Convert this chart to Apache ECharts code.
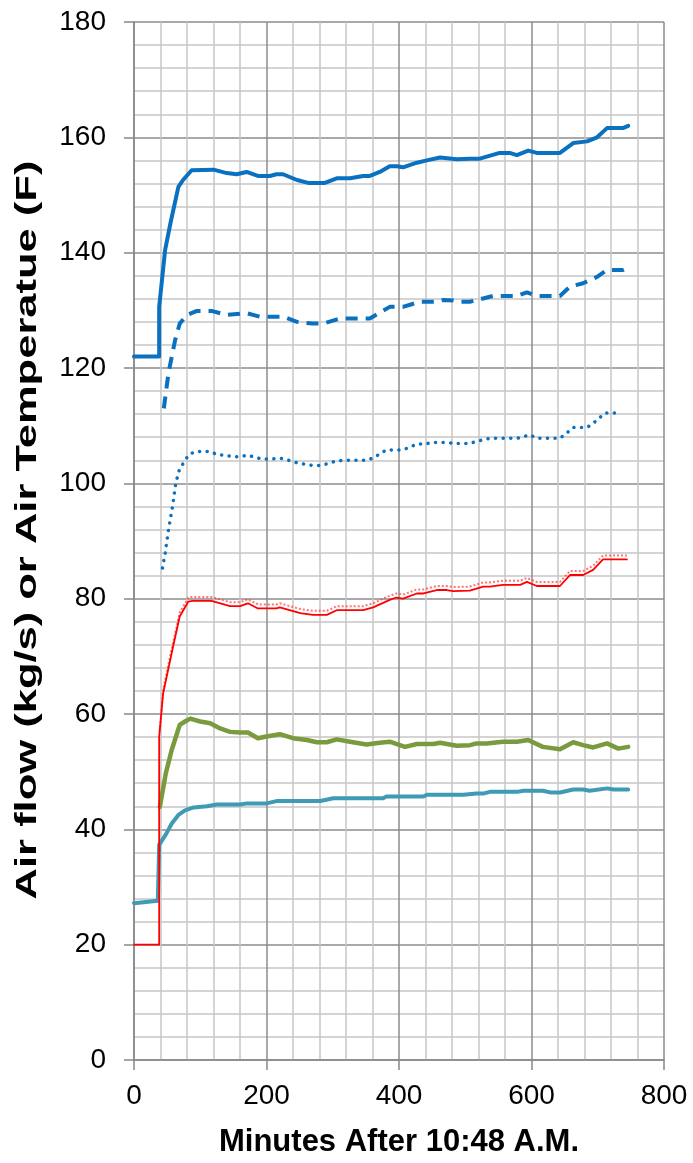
<!DOCTYPE html>
<html>
<head>
<meta charset="utf-8">
<script src="https://cdn.jsdelivr.net/npm/echarts@6/dist/echarts.min.js"></script>
<style>
html,body{margin:0;padding:0;background:#fff;}
#c{width:693px;height:1163px;}
</style>
</head>
<body>
<div id="c"></div>
<script>
// Data: [minutes, value]
const xTicks = [0, 200, 400, 600, 800];
const yTicks = [0, 20, 40, 60, 80, 100, 120, 140, 160, 180];
const xTitle = 'Minutes After 10:48 A.M.';
const yTitle = 'Air flow (kg/s) or Air Temperatue (F)';

const blueSolid = [[0,122],[38,122],[38,130.6],[47,140.5],[55,145.1],[67,151.4],[74,152.6],[87,154.3],[120,154.4],[140,153.8],[155,153.6],[170,154.0],[187,153.3],[205,153.3],[215,153.6],[225,153.6],[246,152.6],[263,152.1],[288,152.1],[306,152.9],[326,152.9],[346,153.3],[356,153.3],[371,154.0],[386,155.0],[397,155.0],[406,154.8],[427,155.6],[442,156.0],[462,156.5],[487,156.2],[507,156.3],[522,156.3],[552,157.3],[567,157.3],[578,156.9],[595,157.7],[608,157.3],[643,157.3],[663,159.0],[684,159.3],[699,160.0],[714,161.6],[738,161.6],[746,162.0]];

const blueDashed = [[45,113.0],[52,119.1],[62,124.8],[69,127.7],[80,129.2],[95,129.9],[117,129.9],[140,129.2],[170,129.5],[190,128.9],[225,128.9],[246,128.0],[270,127.7],[286,127.7],[311,128.6],[356,128.6],[386,130.6],[406,130.6],[432,131.5],[457,131.5],[467,131.8],[482,131.7],[492,131.5],[507,131.5],[522,131.9],[542,132.5],[578,132.5],[593,133.1],[608,132.5],[643,132.5],[658,134.1],[678,134.7],[699,135.8],[714,137.0],[738,137.0],[746,137.4]];

const blueDotted = [[43,85.3],[47,87.9],[52,91.9],[58,95.9],[63,100.0],[69,102.6],[76,103.7],[82,104.9],[92,105.5],[115,105.5],[127,104.9],[137,104.9],[150,104.6],[160,104.6],[171,104.9],[193,104.2],[205,104.2],[215,104.3],[225,104.3],[248,103.5],[270,103.1],[283,103.1],[303,103.8],[316,104.0],[351,104.0],[361,104.4],[381,105.8],[394,105.8],[406,105.8],[427,106.8],[439,106.8],[450,107.1],[472,107.1],[484,106.9],[507,106.9],[517,107.3],[537,107.8],[578,107.8],[598,108.4],[608,107.8],[643,107.8],[653,108.7],[663,109.7],[684,109.7],[694,110.5],[704,111.5],[711,112.2],[736,112.2]];

const redSolid = [[0,20],[38,20],[38,56.1],[44,63.6],[59,71.7],[69,76.9],[82,79.5],[89,79.6],[117,79.6],[145,78.7],[160,78.7],[172,79.2],[187,78.3],[215,78.3],[220,78.5],[251,77.5],[270,77.2],[291,77.2],[306,78.0],[346,78.0],[361,78.5],[386,79.8],[396,80.2],[406,80.0],[427,80.9],[437,80.9],[457,81.5],[472,81.5],[482,81.3],[507,81.4],[527,82.1],[537,82.1],[557,82.4],[583,82.4],[593,82.9],[608,82.2],[643,82.2],[658,84.1],[678,84.1],[693,85.0],[708,86.8],[744,86.8]];

const redDotted = [[39,57.0],[44,64.3],[59,72.4],[69,77.6],[82,80.2],[89,80.3],[117,80.3],[145,79.4],[160,79.4],[172,79.9],[187,79.0],[215,79.0],[220,79.2],[251,78.2],[270,77.9],[291,77.9],[306,78.7],[346,78.7],[361,79.2],[386,80.5],[396,80.9],[406,80.7],[427,81.6],[437,81.6],[457,82.2],[472,82.2],[482,82.0],[507,82.1],[527,82.8],[537,82.8],[557,83.1],[583,83.1],[593,83.6],[608,82.9],[643,82.9],[658,84.8],[678,84.8],[693,85.7],[708,87.5],[744,87.5]];

const green = [[39,43.9],[48,49.7],[57,53.8],[69,58.1],[77,58.7],[85,59.2],[100,58.7],[115,58.4],[130,57.5],[145,56.9],[160,56.8],[172,56.8],[187,55.8],[200,56.1],[220,56.5],[240,55.8],[261,55.5],[276,55.1],[291,55.1],[306,55.6],[326,55.2],[351,54.7],[371,55.0],[386,55.2],[409,54.3],[427,54.8],[452,54.8],[462,55.0],[487,54.5],[507,54.6],[517,54.9],[532,54.9],[557,55.2],[578,55.2],[595,55.5],[617,54.3],[643,53.9],[663,55.1],[678,54.6],[693,54.2],[714,54.9],[731,54.0],[746,54.3]];

const teal = [[0,27.2],[36,27.6],[38,27.6],[38,37.3],[49,39.3],[57,41.0],[67,42.5],[77,43.3],[90,43.8],[110,44.0],[125,44.3],[160,44.3],[171,44.5],[200,44.5],[215,44.9],[281,44.9],[301,45.4],[376,45.4],[381,45.7],[437,45.7],[442,46.0],[497,46.0],[517,46.2],[527,46.2],[537,46.5],[578,46.5],[588,46.7],[617,46.7],[628,46.4],[643,46.4],[663,46.9],[678,46.9],[688,46.7],[714,47.1],[724,46.9],[746,46.9]];

const FONT = "'Liberation Sans', Arial, sans-serif";
const chart = echarts.init(document.getElementById('c'), null, {renderer: 'canvas'});

function line(data, color, width, type, extra) {
  return Object.assign({
    type: 'line', data: data, showSymbol: false, symbol: 'none', animation: false,
    lineStyle: {color: color, width: width, type: type, cap: 'round', join: 'round'},
    z: 3
  }, extra || {});
}

chart.setOption({
  backgroundColor: '#ffffff',
  animation: false,
  grid: {left: 134, right: 29, top: 22, bottom: 103, containLabel: false, outerBoundsMode: 'none'},
  graphic: [{
    type: 'text', x: 28, y: 530, rotation: Math.PI / 2, scaleX: 1.45, scaleY: 1,
    style: {text: yTitle, font: "bold 30px 'Liberation Sans', Arial, sans-serif", fill: '#000',
            align: 'center', verticalAlign: 'middle'},
    z: 10
  }],
  xAxis: {
    type: 'value', min: xTicks[0], max: xTicks[xTicks.length - 1], interval: 200,
    name: xTitle, nameLocation: 'middle', nameGap: 67,
    nameTextStyle: {fontFamily: FONT, fontWeight: 'bold', fontSize: 31, color: '#000'},
    axisLine: {show: true, onZero: false, lineStyle: {color: '#888', width: 1.5}},
    axisTick: {show: true, length: 10, lineStyle: {color: '#888', width: 1.5}},
    axisLabel: {fontFamily: FONT, fontSize: 28, color: '#000', margin: 22},
    splitLine: {show: true, lineStyle: {color: '#8c8c8c', width: 1.5}},
    minorTick: {show: false, splitNumber: 5},
    minorSplitLine: {show: true, lineStyle: {color: '#c6c6c6', width: 1.5}}
  },
  yAxis: {
    type: 'value', min: yTicks[0], max: yTicks[yTicks.length - 1], interval: 20,
    axisLine: {show: true, onZero: false, lineStyle: {color: '#888', width: 1.5}},
    axisTick: {show: true, length: 10, lineStyle: {color: '#888', width: 1.5}},
    axisLabel: {fontFamily: FONT, fontSize: 28, color: '#000', margin: 28},
    splitLine: {show: true, lineStyle: {color: '#8c8c8c', width: 1.5}},
    minorTick: {show: false, splitNumber: 5},
    minorSplitLine: {show: true, lineStyle: {color: '#c6c6c6', width: 1.5}}
  },
  series: [
    line(teal, '#3f9ab3', 4, 'solid'),
    line(green, '#7a9a3e', 4.5, 'solid'),
    line(redDotted, 'rgba(255,70,70,0.75)', 2, [2, 2], {lineStyle: {color: 'rgba(255,70,70,0.75)', width: 2, type: [2, 2], cap: 'butt'}}),
    line(redSolid, '#ff0000', 1.8, 'solid'),
    line(blueDotted, '#0a70c0', 3.5, [0.1, 7.5]),
    line(blueDashed, '#0a70c0', 4, [12, 8], {lineStyle: {color: '#0a70c0', width: 4, type: [12, 8], cap: 'butt'}}),
    line(blueSolid, '#0a70c0', 4, 'solid')
  ]
});
</script>
</body>
</html>
